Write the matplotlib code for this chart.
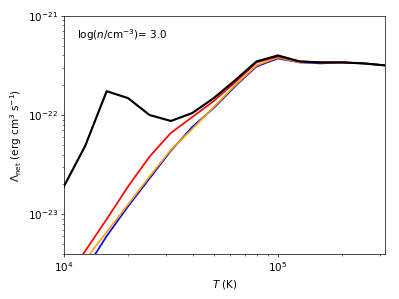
import matplotlib
matplotlib.use("Agg")
import matplotlib.pyplot as plt
import numpy as np

# log T grid and log Lambda_net for each curve
logT = [4.0, 4.1, 4.2, 4.3, 4.4, 4.5, 4.6, 4.7, 4.8, 4.9, 5.0, 5.1, 5.2, 5.3, 5.4, 5.5]
lam_black = [-22.72, -22.31, -21.76, -21.83, -22.00, -22.06, -21.98, -21.83, -21.65,
             -21.46, -21.40, -21.46, -21.47, -21.47, -21.48, -21.50]
lam_red = [-23.68, -23.37, -23.05, -22.72, -22.42, -22.18, -22.02, -21.86, -21.67,
           -21.47, -21.41, -21.46, -21.47, -21.47, -21.48, -21.50]
lam_blue = [-23.95, -23.56, -23.22, -22.92, -22.64, -22.36, -22.12, -21.93, -21.71,
            -21.51, -21.43, -21.47, -21.48, -21.47, -21.48, -21.50]
lam_orange = [-23.80, -23.46, -23.18, -22.90, -22.62, -22.35, -22.14, -21.92, -21.70,
              -21.50, -21.42, -21.47, -21.47, -21.47, -21.48, -21.50]

T = 10 ** np.array(logT)

plt.rcParams['font.size'] = 12
dpi = 399 / 6.4
fig, ax = plt.subplots(figsize=(6.4, 4.8), dpi=dpi)
ax.plot(T, 10 ** np.array(lam_blue), color='blue', lw=2)
ax.plot(T, 10 ** np.array(lam_orange), color='orange', lw=2)
ax.plot(T, 10 ** np.array(lam_red), color='red', lw=2)
ax.plot(T, 10 ** np.array(lam_black), color='black', lw=2.5)

ax.set_xscale('log')
ax.set_yscale('log')
ax.set_xlim(1e4, 10 ** 5.5)
ax.set_ylim(10 ** -23.4, 1e-21)
ax.set_xlabel(r'$T$ (K)')
ax.set_ylabel(r'$\Lambda_{\rm net}$ (erg cm$^3$ s$^{-1}$)')
ax.text(0.04, 0.955, r'log($n$/cm$^{-3}$)= 3.0', transform=ax.transAxes, va='top')

fig.subplots_adjust(left=0.16, right=0.965, top=0.9465, bottom=0.1505)
fig.savefig('out.png', dpi=dpi)
